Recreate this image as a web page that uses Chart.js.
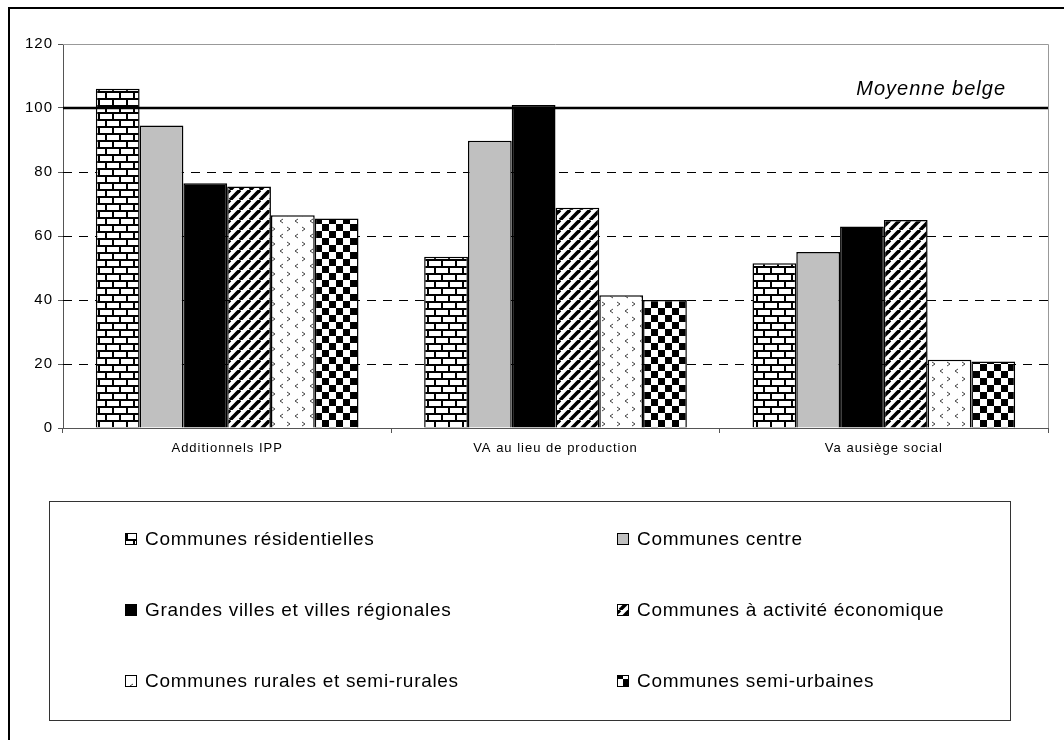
<!DOCTYPE html>
<html lang="fr">
<head>
    <meta charset="UTF-8">
    <title>Moyenne belge</title>
    <script src="https://cdn.jsdelivr.net/npm/chart.js"></script>
    <style>
        body { margin: 0; background: #fff; }
    </style>
</head>
<body>
    <canvas id="chart" width="1064" height="740"></canvas>

    <script>
        const categories = ['Additionnels IPP', 'VA au lieu de production', 'Va ausiège social'];
        const seriesNames = [
            'Communes résidentielles',
            'Communes centre',
            'Grandes villes et villes régionales',
            'Communes à activité économique',
            'Communes rurales et semi-rurales',
            'Communes semi-urbaines'
        ];
        const residentielles = [106, 53.5, 51.5];
        const centre = [94.5, 89.8, 55];
        const grandesVilles = [76.5, 100.9, 63];
        const activiteEco = [75.5, 68.8, 65];
        const rurales = [66.5, 41.5, 21.3];
        const semiUrbaines = [65.5, 40, 20.8];
        const yTicks = [0, 20, 40, 60, 80, 100, 120];
        const belgianAverage = 100;

        const canvas = document.getElementById('chart');
        const ctx = canvas.getContext('2d');

        function makePattern(w, h, draw) {
            const c = document.createElement('canvas');
            c.width = w; c.height = h;
            const g = c.getContext('2d');
            g.fillStyle = '#fff';
            g.fillRect(0, 0, w, h);
            draw(g);
            return ctx.createPattern(c, 'repeat');
        }

        // brick
        const brick = makePattern(14, 14, g => {
            g.fillStyle = '#000';
            g.fillRect(0, 0, 14, 2);
            g.fillRect(0, 7, 14, 2);
            g.fillRect(0, 0, 2, 7);
            g.fillRect(7, 7, 2, 7);
        });
        // wide diagonal stripes
        const stripes = makePattern(10, 10, g => {
            g.strokeStyle = '#000';
            g.lineWidth = 3.6;
            [-10, 0, 10].forEach(o => {
                g.beginPath();
                g.moveTo(o, 10);
                g.lineTo(o + 10, 0);
                g.stroke();
            });
        });
        // small chevrons
        const chevrons = makePattern(15, 15, g => {
            g.strokeStyle = '#444';
            g.lineWidth = 1;
            g.beginPath();
            g.moveTo(2, 2); g.lineTo(5, 4); g.lineTo(2, 6);
            g.moveTo(13, 9); g.lineTo(10, 11); g.lineTo(13, 13);
            g.stroke();
        });
        // checker
        const checker = makePattern(14, 14, g => {
            g.fillStyle = '#000';
            g.fillRect(0, 0, 7, 7);
            g.fillRect(7, 7, 7, 7);
        });

        const fills = [brick, '#c0c0c0', '#000', stripes, chevrons, checker];
        const values = [residentielles, centre, grandesVilles, activiteEco, rurales, semiUrbaines];

        const datasets = seriesNames.map((name, i) => ({
            label: name,
            data: values[i],
            backgroundColor: fills[i],
            borderColor: '#000',
            borderWidth: 1.5,
            categoryPercentage: 0.8,
            barPercentage: 1.0
        }));

        const FONT = '"Liberation Sans", Arial, sans-serif';

        const decorations = {
            id: 'decorations',
            beforeDraw(chart) {
                chart.ctx.letterSpacing = '1px';
            },
            beforeDatasetsDraw(chart) {
                const { ctx, chartArea: a, scales: { y } } = chart;
                ctx.save();
                ctx.strokeStyle = '#000';
                ctx.lineWidth = 1;
                ctx.setLineDash([9, 7]);
                yTicks.forEach(v => {
                    if (v === 0 || v === belgianAverage || v === 120) return;
                    const py = Math.round(y.getPixelForValue(v)) + 0.5;
                    ctx.beginPath();
                    ctx.moveTo(a.left, py);
                    ctx.lineTo(a.right, py);
                    ctx.stroke();
                });
                ctx.setLineDash([]);
                ctx.strokeStyle = '#999';
                ctx.beginPath();
                ctx.moveTo(a.left, a.top + 0.5);
                ctx.lineTo(a.right + 0.5, a.top + 0.5);
                ctx.lineTo(a.right + 0.5, a.bottom);
                ctx.stroke();
                ctx.restore();
            },
            afterDatasetsDraw(chart) {
                const { ctx, chartArea: a, scales: { y } } = chart;
                const py = y.getPixelForValue(belgianAverage);
                ctx.save();
                ctx.strokeStyle = '#000';
                ctx.lineWidth = 2.5;
                ctx.beginPath();
                ctx.moveTo(a.left, py);
                ctx.lineTo(a.right, py);
                ctx.stroke();
                ctx.fillStyle = '#000';
                ctx.font = 'italic 20px ' + FONT;
                ctx.letterSpacing = '1px';
                ctx.textAlign = 'right';
                ctx.textBaseline = 'alphabetic';
                ctx.fillText('Moyenne belge', 1006, 95);
                ctx.restore();
            },
            afterDraw(chart) {
                const { ctx } = chart;
                ctx.save();
                // legend box
                ctx.strokeStyle = '#333';
                ctx.lineWidth = 1;
                ctx.strokeRect(49.5, 501.5, 961, 219);
                ctx.font = '19px ' + FONT;
                ctx.letterSpacing = '0.7px';
                ctx.textBaseline = 'middle';
                ctx.textAlign = 'left';
                const colX = [125, 617];
                const rowY = [539, 610, 681];
                chart.data.datasets.forEach((ds, i) => {
                    const x = colX[i % 2];
                    const yy = rowY[Math.floor(i / 2)];
                    ctx.fillStyle = ds.backgroundColor;
                    ctx.fillRect(x, yy - 5, 11, 11);
                    ctx.strokeStyle = '#000';
                    ctx.lineWidth = 1;
                    ctx.strokeRect(x + 0.5, yy - 5.5, 11, 11);
                    ctx.fillStyle = '#000';
                    ctx.fillText(ds.label, x + 20, yy + 1);
                });
                // outer frame
                ctx.strokeStyle = '#000';
                ctx.lineWidth = 2;
                ctx.strokeRect(9, 8, 1100, 800);
                ctx.restore();
            }
        };

        new Chart(ctx, {
            type: 'bar',
            data: { labels: categories, datasets },
            options: {
                responsive: false,
                animation: false,
                devicePixelRatio: 1,
                layout: { padding: { top: 44, right: 16, left: 0, bottom: 0 } },
                plugins: {
                    legend: { display: false },
                    tooltip: { enabled: false }
                },
                scales: {
                    x: {
                        grid: { drawOnChartArea: false, drawTicks: true, tickLength: 5, color: '#555' },
                        border: { color: '#555', width: 1 },
                        ticks: { color: '#000', font: { family: FONT, size: 13 }, padding: 8 },
                        afterFit(scale) { scale.height = 312; }
                    },
                    y: {
                        min: 0,
                        max: 120,
                        afterBuildTicks(scale) { scale.ticks = yTicks.map(v => ({ value: v })); },
                        grid: { drawOnChartArea: false, drawTicks: true, tickLength: 5, color: '#555' },
                        border: { color: '#555', width: 1 },
                        ticks: { color: '#000', font: { family: FONT, size: 15 }, padding: 5 },
                        afterFit(scale) { scale.width = 63; }
                    }
                }
            },
            plugins: [decorations]
        });
    </script>
</body>
</html>
